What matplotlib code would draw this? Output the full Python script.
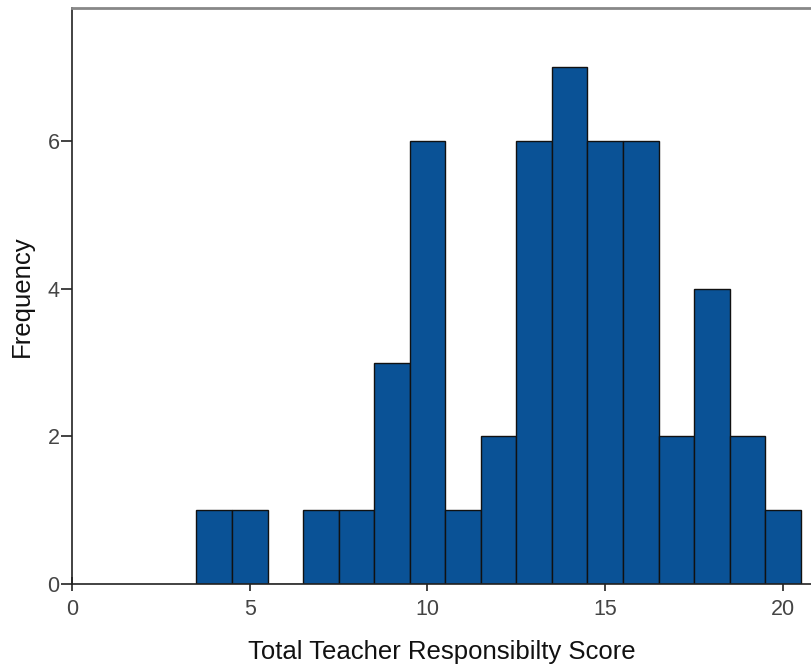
import matplotlib
matplotlib.use("Agg")
import matplotlib.pyplot as plt

scores = [4, 5, 6, 7, 8, 9, 10, 11, 12, 13, 14, 15, 16, 17, 18, 19, 20]
frequency = [1, 1, 0, 1, 1, 3, 6, 1, 2, 6, 7, 6, 6, 2, 4, 2, 1]
xticks = [0, 5, 10, 15, 20]
yticks = [0, 2, 4, 6]

plt.rcParams['font.family'] = ['Liberation Sans', 'DejaVu Sans']

fig = plt.figure(figsize=(8.12, 6.66), dpi=100)
ax = fig.add_axes([72/812, 82/666, 740/812, 576/666])
ax.bar(scores, frequency, width=1.0, color='#0a5296', edgecolor='#111111', linewidth=1.0, zorder=2)

ax.set_xlim(0, 740/35.55)
ax.set_ylim(0, 576/73.83)
ax.set_xticks(xticks)
ax.set_yticks(yticks)
ax.tick_params(axis='both', labelsize=15.5, colors='#222222', width=1.2, labelcolor='#444444')
ax.tick_params(axis='x', direction='inout', length=10, pad=6)
ax.tick_params(axis='y', direction='out', length=8, pad=1)

ax.spines['right'].set_visible(False)
ax.spines['top'].set_color('#888888')
ax.spines['top'].set_linewidth(2)
for s in ['left', 'bottom']:
    ax.spines[s].set_color('#222222')
    ax.spines[s].set_linewidth(1.2)

ax.set_xlabel('Total Teacher Responsibilty Score', fontsize=18.5, color='#111111', labelpad=14)
ax.set_ylabel('Frequency', fontsize=18.5, color='#111111', labelpad=10)

fig.savefig('out.png', dpi=100)
